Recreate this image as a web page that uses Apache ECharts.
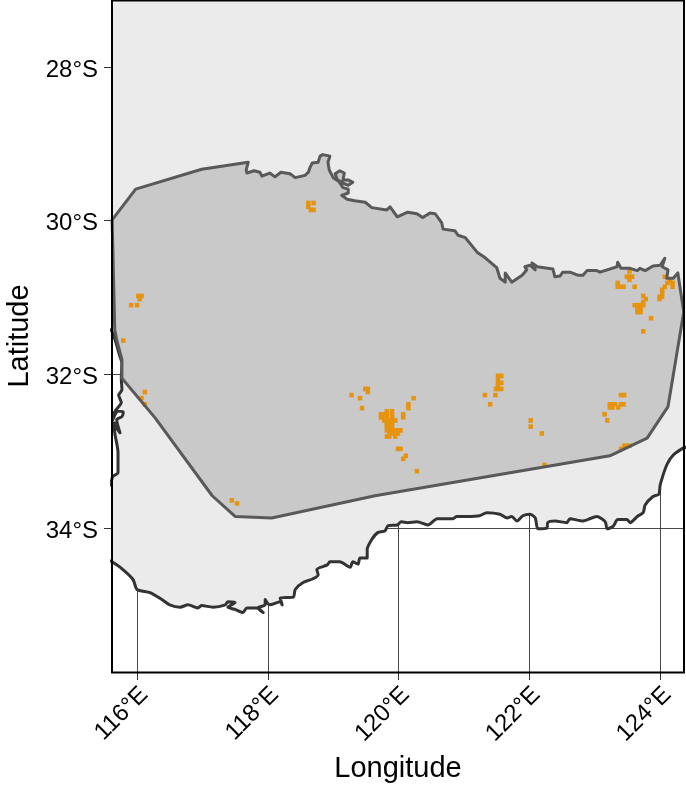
<!DOCTYPE html>
<html><head><meta charset="utf-8">
<style>html,body{margin:0;padding:0;background:#fff}#c{width:686px;height:786px}</style>
<script src="https://cdn.jsdelivr.net/npm/echarts@6/dist/echarts.min.js"></script>
</head><body><div id="c"></div>
<script>
const xMin=115.618,xMax=124.364,yMin=-35.874,yMax=-27.128;
const lonTicks=[116,118,120,122,124];
const latTicks=[-34,-32,-30,-28];
const westCoast=[[115.6,-31.42],[115.63,-31.46],[115.68,-31.59],[115.74,-31.77],[115.77,-31.85],[115.76,-32.05],[115.77,-32.20],[115.72,-32.27],[115.76,-32.37],[115.72,-32.42],[115.65,-32.50],[115.63,-32.59],[115.71,-32.48],[115.79,-32.49],[115.77,-32.55],[115.69,-32.59],[115.74,-32.76],[115.69,-32.70],[115.65,-32.63],[115.66,-32.76],[115.71,-33.02],[115.71,-33.28],[115.63,-33.33],[115.6,-33.44]];
const southCoast=[[115.6,-34.43],[115.74,-34.51],[115.94,-34.67],[116.00,-34.80],[116.20,-34.84],[116.38,-34.93],[116.50,-35.00],[116.66,-35.03],[116.78,-35.00],[116.93,-35.04],[116.99,-35.01],[117.16,-35.03],[117.35,-35.00],[117.39,-34.96],[117.50,-34.97],[117.39,-35.03],[117.50,-35.06],[117.62,-35.10],[117.68,-35.04],[117.83,-35.04],[117.93,-35.10],[117.85,-35.04],[117.96,-35.00],[117.96,-34.93],[118.03,-35.00],[118.19,-34.96],[118.22,-35.00],[118.19,-34.91],[118.39,-34.90],[118.42,-34.80],[118.54,-34.71],[118.69,-34.66],[118.77,-34.61],[118.75,-34.54],[118.91,-34.48],[118.95,-34.44],[119.10,-34.44],[119.26,-34.51],[119.30,-34.44],[119.38,-34.47],[119.41,-34.39],[119.52,-34.39],[119.52,-34.28],[119.59,-34.15],[119.68,-34.06],[119.79,-34.04],[119.84,-33.97],[119.98,-33.96],[120.04,-33.92],[120.14,-33.93],[120.28,-33.92],[120.45,-33.96],[120.59,-33.88],[120.83,-33.88],[120.89,-33.85],[121.05,-33.85],[121.24,-33.84],[121.35,-33.80],[121.55,-33.82],[121.66,-33.87],[121.73,-33.85],[121.81,-33.91],[121.90,-33.84],[122.01,-33.82],[122.09,-33.87],[122.13,-34.01],[122.27,-34.00],[122.28,-33.93],[122.39,-33.91],[122.57,-33.93],[122.62,-33.88],[122.82,-33.91],[123.03,-33.85],[123.16,-33.92],[123.19,-34.01],[123.28,-33.98],[123.35,-33.89],[123.49,-33.89],[123.54,-33.93],[123.65,-33.85],[123.74,-33.80],[123.77,-33.70],[123.89,-33.59],[123.98,-33.56],[124.00,-33.44],[124.10,-33.18],[124.20,-33.05],[124.35,-32.96],[124.40,-32.95]];
const regionOutline=[[115.62,-29.99],[115.98,-29.59],[116.99,-29.33],[117.70,-29.24],[117.67,-29.34],[117.68,-29.38],[117.79,-29.35],[117.88,-29.37],[117.91,-29.42],[118.03,-29.38],[118.11,-29.43],[118.20,-29.37],[118.34,-29.39],[118.42,-29.44],[118.57,-29.41],[118.60,-29.42],[118.62,-29.37],[118.65,-29.30],[118.68,-29.25],[118.77,-29.24],[118.80,-29.16],[118.84,-29.14],[118.95,-29.16],[118.92,-29.24],[118.94,-29.34],[119.00,-29.44],[119.07,-29.48],[119.03,-29.39],[119.10,-29.35],[119.17,-29.38],[119.15,-29.47],[119.23,-29.47],[119.30,-29.50],[119.23,-29.54],[119.15,-29.51],[119.07,-29.47],[119.15,-29.57],[119.23,-29.59],[119.23,-29.64],[119.13,-29.67],[119.21,-29.72],[119.33,-29.74],[119.49,-29.76],[119.59,-29.83],[119.82,-29.86],[119.87,-29.82],[119.98,-29.95],[120.14,-29.89],[120.28,-29.91],[120.37,-29.96],[120.48,-29.90],[120.56,-29.91],[120.66,-30.03],[120.68,-30.11],[120.86,-30.13],[120.91,-30.19],[121.02,-30.22],[121.20,-30.41],[121.32,-30.48],[121.50,-30.61],[121.55,-30.75],[121.63,-30.80],[121.63,-30.68],[121.73,-30.80],[121.89,-30.71],[121.96,-30.64],[121.93,-30.60],[122.01,-30.58],[122.09,-30.64],[122.04,-30.55],[122.12,-30.60],[122.36,-30.63],[122.39,-30.73],[122.47,-30.72],[122.51,-30.67],[122.62,-30.67],[122.74,-30.71],[122.82,-30.71],[122.88,-30.65],[123.03,-30.65],[123.08,-30.67],[123.34,-30.60],[123.35,-30.54],[123.40,-30.62],[123.54,-30.62],[123.65,-30.65],[123.69,-30.62],[123.77,-30.65],[123.89,-30.59],[124.00,-30.58],[124.07,-30.49],[124.03,-30.60],[124.12,-30.64],[124.10,-30.75],[124.20,-30.75],[124.27,-30.68],[124.36,-31.19],[124.12,-32.42],[123.80,-32.83],[123.23,-33.06],[119.64,-33.58],[118.06,-33.87],[117.50,-33.85],[117.15,-33.58],[116.28,-32.57],[115.77,-32.05],[115.77,-31.81],[115.69,-31.55],[115.66,-31.42],[115.62,-29.99]];
const clusterPoints=[
[119.82,-32.48],[119.90,-32.48],
[119.73,-32.52],[119.78,-32.52],[119.82,-32.52],[119.90,-32.52],
[119.73,-32.56],[119.78,-32.56],[119.82,-32.56],[119.90,-32.56],
[119.78,-32.60],[119.82,-32.60],[119.86,-32.60],[119.90,-32.60],[119.95,-32.60],
[119.82,-32.64],[119.86,-32.64],[119.90,-32.64],
[119.82,-32.68],[119.86,-32.68],[119.90,-32.68],
[119.82,-32.73],[119.86,-32.73],[119.90,-32.73],[119.95,-32.73],[119.99,-32.73],[120.03,-32.73],
[119.86,-32.77],[119.90,-32.77],[119.95,-32.77],[119.99,-32.77],
[119.82,-32.81],[119.86,-32.81],[119.95,-32.81],
[119.49,-32.19],[119.53,-32.19],[119.53,-32.23],[119.28,-32.27],[119.41,-32.31],[119.44,-32.44],
[120.23,-32.31],[120.15,-32.39],[120.15,-32.44],[120.07,-32.52],[120.07,-32.56],
[119.99,-32.97],[120.03,-32.97],[120.11,-33.06],[120.07,-33.10],[120.28,-33.26]];
const eastPoints=[
[121.52,-32.02],[121.57,-32.02],[121.52,-32.06],[121.52,-32.11],[121.57,-32.11],[121.52,-32.15],[121.49,-32.19],[121.52,-32.19],[121.57,-32.19],
[121.32,-32.27],[121.48,-32.27],[121.40,-32.39],[122.02,-32.60],[122.02,-32.68],[122.19,-32.77],[122.23,-33.18],
[123.40,-32.27],[123.45,-32.27],[123.40,-32.39],[123.44,-32.39],[123.36,-32.43],[123.23,-32.39],[123.27,-32.39],[123.31,-32.39],[123.23,-32.43],[123.27,-32.43],[123.15,-32.52],[123.19,-32.60],
[123.45,-32.93],[123.49,-32.93],[123.53,-32.93],[123.40,-32.97]];
const northEastPoints=[
[123.53,-30.66],[123.49,-30.73],[123.53,-30.73],[123.57,-30.73],[123.53,-30.77],
[123.35,-30.81],[123.35,-30.86],[123.40,-30.86],[123.44,-30.86],[123.61,-30.86],
[123.74,-30.98],[123.78,-31.02],[123.74,-31.06],[123.74,-31.10],[123.61,-31.10],[123.65,-31.10],[123.70,-31.10],
[123.65,-31.14],[123.70,-31.14],[123.65,-31.19],[123.70,-31.19],[123.86,-31.27],[123.74,-31.44],
[124.07,-30.73],[124.11,-30.81],[124.15,-30.79],[124.19,-30.81],[124.07,-30.86],[124.19,-30.86],[124.03,-30.90],[124.03,-30.94],[124.03,-30.99],[123.99,-30.99],[123.99,-31.02]];
const westPoints=[
[118.62,-29.77],[118.70,-29.77],[118.62,-29.82],[118.66,-29.86],[118.70,-29.86],
[116.02,-30.98],[116.07,-30.98],[116.04,-31.02],[115.91,-31.10],[116.00,-31.10],
[115.79,-31.56],[116.12,-32.23],[116.07,-32.31],[116.12,-32.39],[117.45,-33.64],[117.53,-33.68]];

const land=[[xMin-0.1,yMax+0.1],[xMax+0.1,yMax+0.1],[xMax+0.1,-32.95]]
  .concat(southCoast.slice().reverse())
  .concat(westCoast.slice().reverse());

function polygonSeries(points,fill,z){
  return {type:'custom',coordinateSystem:'cartesian2d',clip:true,z:z,silent:true,
    data:points,
    renderItem:function(params,api){
      if(params.dataIndex!==0) return null;
      return {type:'polygon',shape:{points:points.map(p=>api.coord(p))},style:{fill:fill,stroke:null}};
    }};
}
function lineSeries(points,color,width,z,smooth){
  return {type:'line',data:points,symbol:'none',z:z,silent:true,clip:true,smooth:smooth||false,
    lineStyle:{color:color,width:width,join:'round',cap:'round'}};
}
const font='"Liberation Sans",Arial,sans-serif';
const chart=echarts.init(document.getElementById('c'),null,{renderer:'canvas'});
chart.setOption({
  animation:false,
  backgroundColor:'#fff',
  grid:{left:112,right:2,top:0,bottom:114,show:false,outerBoundsMode:'none',containLabel:false},
  xAxis:{type:'value',min:xMin,max:xMax,name:'Longitude',nameLocation:'middle',nameGap:82,
    nameTextStyle:{fontFamily:font,fontSize:29,color:'#000'},
    axisLine:{show:false},
    axisTick:{show:true,length:8,customValues:lonTicks,lineStyle:{color:'#333',width:1}},
    axisLabel:{show:true,customValues:lonTicks,rotate:45,margin:12,
      formatter:v=>'{a|'+v+'°E}',hideOverlap:false,
      rich:{a:{fontFamily:font,fontSize:24,color:'#000',padding:[20,0,0,0]}}},
    splitLine:{show:true,lineStyle:{color:'#333',width:0.9}}},
  yAxis:{type:'value',min:yMin,max:yMax,name:'Latitude',nameLocation:'middle',nameGap:74,
    nameTextStyle:{fontFamily:font,fontSize:29,color:'#000'},
    axisLine:{show:false},
    axisTick:{show:true,length:8,customValues:latTicks,lineStyle:{color:'#333',width:1}},
    axisLabel:{show:true,customValues:latTicks,margin:14,
      formatter:v=>'{a|'+Math.abs(v)+'°S}',hideOverlap:false,
      rich:{a:{fontFamily:font,fontSize:24,color:'#000',padding:[6,0,0,0]}}},
    splitLine:{show:true,lineStyle:{color:'#333',width:0.9}}},
  series:[
    polygonSeries(land,'#EBEBEB',2),
    lineSeries(westCoast,'#333333',3,3,0.25),
    lineSeries(southCoast,'#333333',3,3,0.25),
    polygonSeries(regionOutline,'#C9C9C9',4),
    {type:'scatter',data:clusterPoints.concat(eastPoints,northEastPoints,westPoints),symbol:'rect',symbolSize:[4.5,4.6],z:5,silent:true,
      itemStyle:{color:'#E69410',opacity:1}},
    lineSeries(regionOutline,'#595959',3,6)
  ],
  graphic:[{type:'rect',z:100,silent:true,shape:{x:112,y:0.5,width:572,height:672},
    style:{fill:null,stroke:'#000',lineWidth:2}}]
});
</script></body></html>
